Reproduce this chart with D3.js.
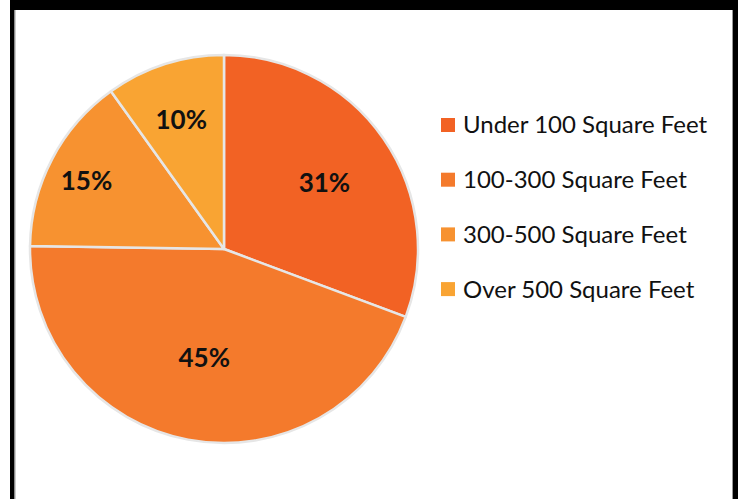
<!DOCTYPE html>
<html lang="en">
<head>
<meta charset="UTF-8">
<title>Pie</title>
<script src="https://cdn.jsdelivr.net/npm/d3@7"></script>
<style>
    * { margin: 0; padding: 0; }
    body { background: #fff; }
    text { font-family: Lato, "Noto Sans", sans-serif; }
</style>
</head>
<body>
<script>
    const categories = ['Under 100 Square Feet', '100-300 Square Feet', '300-500 Square Feet', 'Over 500 Square Feet']
    const values = [31, 45, 15, 10]
    const labels = ['31%', '45%', '15%', '10%']
    const colors = ['#f26224', '#f47a2c', '#f79230', '#f9a433']

    const width = 743
    const height = 499

    const svg = d3.select('body').append('svg')
        .attr('width', width)
        .attr('height', height)

    // frame (black bars + thin gray inner line)
    svg.append('rect').attr('x', 10).attr('y', 0).attr('width', 728).attr('height', 10).attr('fill', '#000')
    svg.append('rect').attr('x', 10).attr('y', 0).attr('width', 4.5).attr('height', height).attr('fill', '#000')
    svg.append('rect').attr('x', 733).attr('y', 0).attr('width', 5).attr('height', height).attr('fill', '#000')
    svg.append('line').attr('x1', 15).attr('x2', 15).attr('y1', 10).attr('y2', height).attr('stroke', '#999').attr('stroke-width', 1)
    svg.append('line').attr('x1', 732.5).attr('x2', 732.5).attr('y1', 10).attr('y2', height).attr('stroke', '#999').attr('stroke-width', 1)

    const cx = 224, cy = 249, radius = 194
    // per-slice label distance (fraction of radius)
    const labelR = [0.63, 0.55, 0.8, 0.72]

    const pie = d3.pie().sort(null).value(d => d)
    const arc = d3.arc().innerRadius(0).outerRadius(radius)
    const arcs = pie(values)

    const g = svg.append('g').attr('transform', 'translate(' + cx + ',' + cy + ')')

    g.selectAll('.slice')
        .data(arcs)
        .enter()
        .append('path')
        .attr('class', 'slice')
        .attr('d', arc)
        .attr('fill', (d, i) => colors[i])
        .attr('stroke', '#e6e6e6')
        .attr('stroke-width', 2.5)
        .attr('stroke-linejoin', 'round')

    g.selectAll('.lbl')
        .data(arcs)
        .enter()
        .append('text')
        .attr('class', 'lbl')
        .attr('transform', (d, i) => {
            const a = d3.arc().innerRadius(radius * labelR[i]).outerRadius(radius * labelR[i])
            return 'translate(' + a.centroid(d) + ')'
        })
        .attr('text-anchor', 'middle')
        .attr('dy', '0.5em')
        .attr('font-size', 26)
        .attr('font-weight', 'bold')
        .attr('fill', '#111')
        .text((d, i) => labels[i])

    // legend
    const legend = svg.append('g').attr('transform', 'translate(441,118)')
    const row = legend.selectAll('.row')
        .data(categories)
        .enter()
        .append('g')
        .attr('class', 'row')
        .attr('transform', (d, i) => 'translate(0,' + i * 54.7 + ')')

    row.append('rect')
        .attr('width', 14)
        .attr('height', 14)
        .attr('fill', (d, i) => colors[i])

    row.append('text')
        .attr('x', 22)
        .attr('y', 7)
        .attr('dy', '0.35em')
        .attr('font-size', 24)
        .attr('fill', '#111')
        .text(d => d)
</script>
</body>
</html>
